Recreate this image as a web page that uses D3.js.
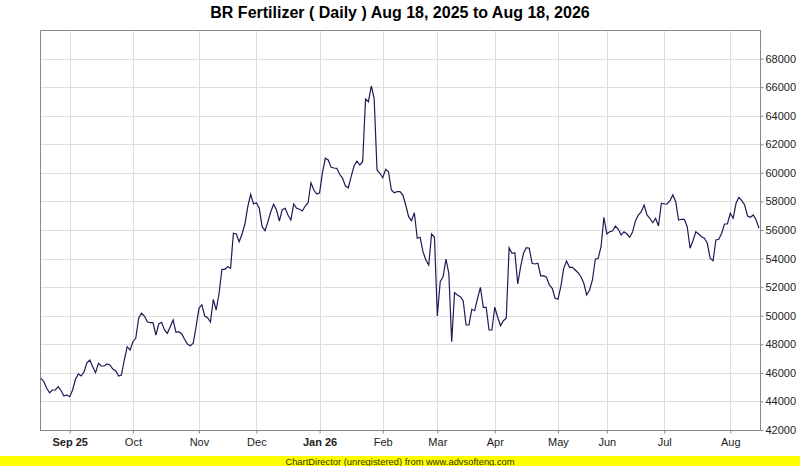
<!DOCTYPE html>
<html lang="en">
<head>
    <meta charset="UTF-8">
    <title>BR Fertilizer (Daily)</title>
    <script src="https://cdnjs.cloudflare.com/ajax/libs/d3/7.8.5/d3.min.js"></script>
    <style>
        body {
            margin: 0;
            background: #ffffff;
            font-family: "Liberation Sans", Arial, sans-serif;
        }
        .grid line {
            stroke: #dddddd;
            stroke-width: 1px;
        }
        .axis path, .axis line {
            stroke: #888888;
        }
        .axis text {
            fill: #222222;
            font-size: 11px;
            font-family: "Liberation Sans", Arial, sans-serif;
        }
        .price {
            fill: none;
            stroke: #1c1c55;
            stroke-width: 1.2px;
        }
    </style>
</head>
<body>
    <div id="chart"></div>

    <script>
        // Daily closes, Aug 18, 2025 .. Aug 18, 2026 (one per trading day)
        const closeSepOct = [45620, 45380, 44920, 44610, 44800, 44800, 45030, 44750, 44380, 44450,
            44330, 44800, 45550, 45920, 45780, 46080, 46710, 46900, 46430, 46010, 46670, 46480,
            46480, 46620, 46550, 46270, 46150, 45780, 45850, 46900, 47830, 47600, 48180, 48420,
            49820, 50170, 49980, 49580, 49510, 49510, 48650, 49420];
        const closeOctDec = [49540, 49000, 48770, 49230, 49700, 48840, 48880, 48720, 48350, 48020,
            47900, 48070, 49230, 50520, 50770, 49980, 49860, 49560, 51150, 50400, 51570, 53250,
            53250, 53430, 53320, 55770, 55720, 55180, 55720, 56420, 57630, 58500, 57820, 57910,
            57520, 56230, 55950, 56580, 57280, 57800, 57400, 56630, 57420];
        const closeDecFeb = [57520, 57050, 56700, 57820, 57520, 57450, 57330, 57680, 57910, 59310,
            58800, 58520, 58610, 60010, 61020, 60900, 60390, 60340, 60320, 59900, 59620, 59080,
            58960, 59730, 60480, 60830, 60550, 60780, 65170, 64980, 66080, 65220, 60200, 59970,
            59660, 60250, 60080, 58800, 58610, 58680, 58680, 58450];
        const closeFebApr = [57750, 56930, 56650, 57210, 55420, 55490, 54480, 53900, 53550, 55720,
            55490, 49980, 52380, 52730, 53970, 52970, 48180, 51610, 51450, 51330, 51050, 49350,
            49350, 50450, 50350, 51220, 51990, 50590, 50590, 49000, 49000, 50590, 49890, 49300,
            49650, 49820, 54760, 54370, 54410, 52220];
        const closeAprJun = [53430, 54370, 54760, 54720, 53670, 53620, 53670, 52780, 52800, 52690,
            52150, 51920, 51220, 51150, 52030, 53320, 53830, 53390, 53390, 53200, 53010, 52730,
            52270, 51450, 51800, 52500, 53950, 54020, 54830, 56890, 55720, 55880, 55930, 56280,
            56050, 55650, 55880, 55720, 55490, 55880, 56650, 57050, 57280];
        const closeJunAug = [57750, 57050, 56820, 56510, 56820, 56280, 57870, 57820, 57820, 58050,
            58450, 57980, 56700, 56750, 56750, 56230, 54720, 55250, 55880, 55720, 55530, 55420,
            55070, 54020, 53850, 55300, 55350, 55770, 56420, 56420, 57170, 56820, 57870, 58290,
            58050, 57750, 56980, 56890, 57050, 56700, 56120];

        // first trading day of each month (index into the series) and its label
        const monthTickIndex = [10, 32, 55, 75, 97, 119, 138, 158, 180, 197, 217, 240];
        const monthTickLabels = ["Sep 25", "Oct", "Nov", "Dec", "Jan 26", "Feb", "Mar", "Apr",
            "May", "Jun", "Jul", "Aug"];
        const yearTickLabels = ["Sep 25", "Jan 26"];
        const priceTicks = [42000, 44000, 46000, 48000, 50000, 52000, 54000, 56000, 58000,
            60000, 62000, 64000, 66000, 68000];

        const closes = [].concat(closeSepOct, closeOctDec, closeDecFeb, closeFebApr,
            closeAprJun, closeJunAug);

        const width = 800, height = 466;
        const plot = { left: 40, right: 760, top: 30, bottom: 430 };

        const svg = d3.select("#chart").append("svg")
            .attr("width", width)
            .attr("height", height);

        const x = d3.scaleLinear()
            .domain([0, closes.length - 1])
            .range([plot.left + 1, plot.right - 1]);

        const y = d3.scaleLinear()
            .domain([42000, 70000])
            .range([plot.bottom, plot.top]);

        // plot background
        svg.append("rect")
            .attr("x", plot.left).attr("y", plot.top)
            .attr("width", plot.right - plot.left)
            .attr("height", plot.bottom - plot.top)
            .attr("fill", "#ffffff");

        // grid
        const grid = svg.append("g").attr("class", "grid");
        grid.selectAll(".h").data(priceTicks.slice(1)).enter().append("line")
            .attr("x1", plot.left).attr("x2", plot.right)
            .attr("y1", d => Math.round(y(d)) + 0.5)
            .attr("y2", d => Math.round(y(d)) + 0.5);
        grid.selectAll(".v").data(monthTickIndex).enter().append("line")
            .attr("x1", d => Math.round(x(d)) + 0.5)
            .attr("x2", d => Math.round(x(d)) + 0.5)
            .attr("y1", plot.top).attr("y2", plot.bottom);

        // frame (left and top edges)
        svg.append("path")
            .attr("d", `M${plot.left + 0.5},${plot.bottom}V${plot.top + 0.5}H${plot.right}`)
            .attr("fill", "none")
            .attr("stroke", "#888888");

        // y axis on the right
        const yAxis = d3.axisRight(y)
            .tickValues(priceTicks)
            .tickSize(3)
            .tickPadding(2)
            .tickFormat(d => d);
        svg.append("g")
            .attr("class", "axis")
            .attr("transform", `translate(${plot.right + 0.5},0)`)
            .call(yAxis)
            .call(g => g.select(".domain").attr("d", `M0,${plot.top}V${plot.bottom + 0.5}`));

        // x axis
        const xAxis = d3.axisBottom(x)
            .tickValues(monthTickIndex)
            .tickSize(3)
            .tickPadding(4)
            .tickFormat((d, i) => monthTickLabels[i]);
        svg.append("g")
            .attr("class", "axis")
            .attr("transform", `translate(0,${plot.bottom + 0.5})`)
            .call(xAxis)
            .call(g => g.select(".domain").attr("d", `M${plot.left},0H${plot.right + 0.5}`))
            .call(g => g.selectAll(".tick text")
                .attr("dy", "0.8em")
                .style("font-weight", (d, i) => yearTickLabels.includes(monthTickLabels[i]) ? "bold" : "normal"));

        // price line
        const line = d3.line()
            .x((d, i) => x(i))
            .y(d => y(d));

        svg.append("path")
            .datum(closes)
            .attr("class", "price")
            .attr("d", line);

        // title
        svg.append("text")
            .attr("x", width / 2)
            .attr("y", 18)
            .attr("text-anchor", "middle")
            .style("font-size", "16px")
            .style("font-weight", "bold")
            .style("fill", "#000")
            .text("BR Fertilizer ( Daily ) Aug 18, 2025 to Aug 18, 2026");

        // footer banner
        svg.append("rect")
            .attr("x", 0).attr("y", 456)
            .attr("width", width).attr("height", 10)
            .attr("fill", "#ffff00");
        svg.append("text")
            .attr("x", width / 2)
            .attr("y", 464.5)
            .attr("text-anchor", "middle")
            .style("font-size", "9.4px")
            .style("fill", "#333300")
            .text("ChartDirector (unregistered) from www.advsofteng.com");
    </script>
</body>
</html>
